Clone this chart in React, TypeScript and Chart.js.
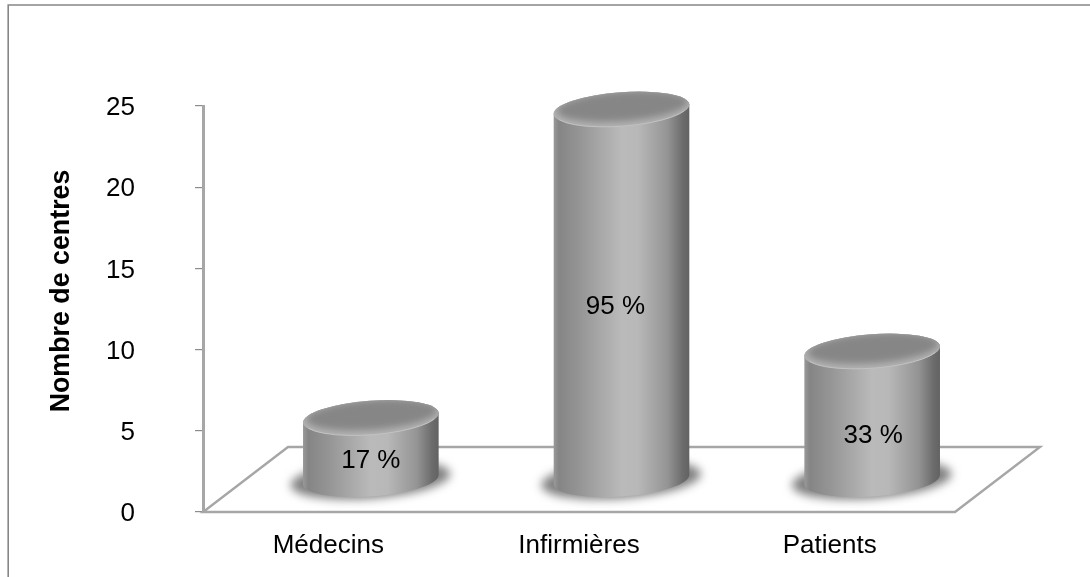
import React, { useEffect, useRef } from "react";
import { Chart, registerables } from "chart.js";

Chart.register(...registerables);

const categories = ["Médecins", "Infirmières", "Patients"];
const centreCounts = [3.8, 22.8, 7.9];
const percentLabels = ["17 %", "95 %", "33 %"];
const yAxisTitle = "Nombre de centres";

const FONT = '"Liberation Sans", Arial, sans-serif';
const AXIS = "#a6a6a6";
// projected depth of the 3D floor
const DEPTH_X = 85;
const DEPTH_Y = 65;
const TILT = (-4.2 * Math.PI) / 180;
const RY = 17;
const labelNudge = [[0, 12], [-6, 12], [1, 20]];

const cylinderPlugin = {
  id: "cylinders",
  beforeDraw(chart: any) {
    const { ctx, width, height } = chart;
    ctx.save();
    ctx.fillStyle = "#fff";
    ctx.fillRect(0, 0, width, height);
    ctx.strokeStyle = "#868686";
    ctx.lineWidth = 1.6;
    ctx.beginPath();
    ctx.moveTo(8.2, height + 2);
    ctx.lineTo(8.2, 5);
    ctx.lineTo(width + 2, 5);
    ctx.stroke();
    ctx.restore();
  },
  beforeDatasetsDraw(chart: any) {
    const { ctx, scales } = chart;
    const l = scales.x.left;
    const r = scales.x.right;
    const b = scales.y.getPixelForValue(0);
    ctx.save();
    ctx.strokeStyle = AXIS;
    ctx.lineWidth = 2.4;
    ctx.lineJoin = "miter";
    ctx.beginPath();
    ctx.moveTo(l, b);
    ctx.lineTo(r, b);
    ctx.lineTo(r + DEPTH_X, b - DEPTH_Y);
    ctx.lineTo(l + DEPTH_X, b - DEPTH_Y);
    ctx.closePath();
    ctx.stroke();
    ctx.restore();
  },
  afterDatasetsDraw(chart: any) {
    const { ctx, scales } = chart;
    const meta = chart.getDatasetMeta(0);
    const baseCy = scales.y.getPixelForValue(0) - DEPTH_Y / 2;
    meta.data.forEach((bar: any, i: number) => {
      const cx = bar.x + DEPTH_X / 2;
      const rx = bar.width / 2;
      const topCy = bar.y - DEPTH_Y / 2;
      ctx.save();

      // contact shadow
      ctx.save();
      ctx.filter = "blur(5px)";
      ctx.fillStyle = "rgba(85,85,85,0.75)";
      ctx.beginPath();
      ctx.ellipse(cx - 0.5, baseCy, rx + 12, RY + 2, TILT, 0, Math.PI * 2);
      ctx.fill();
      ctx.restore();

      // body
      const grad = ctx.createLinearGradient(cx - rx, 0, cx + rx, 0);
      grad.addColorStop(0, "#9a9a9a");
      grad.addColorStop(0.04, "#858585");
      grad.addColorStop(0.2, "#969696");
      grad.addColorStop(0.5, "#bababa");
      grad.addColorStop(0.62, "#b8b8b8");
      grad.addColorStop(0.84, "#949494");
      grad.addColorStop(0.95, "#6c6c6c");
      grad.addColorStop(1, "#626262");
      ctx.fillStyle = grad;
      ctx.beginPath();
      ctx.ellipse(cx, baseCy, rx, RY, TILT, 0, Math.PI);
      ctx.ellipse(cx, topCy, rx, RY, TILT, Math.PI, Math.PI * 2);
      ctx.closePath();
      ctx.fill();

      // top face
      ctx.save();
      ctx.beginPath();
      ctx.ellipse(cx, topCy, rx, RY, TILT, 0, Math.PI * 2);
      ctx.fillStyle = "#b4b4b4";
      ctx.fill();
      ctx.clip();
      ctx.filter = "blur(3.5px)";
      ctx.fillStyle = "#868686";
      ctx.beginPath();
      ctx.ellipse(cx + 1, topCy - 3, rx - 2, RY - 2, TILT, 0, Math.PI * 2);
      ctx.fill();
      ctx.restore();

      // light rim at the front of the top face
      ctx.strokeStyle = "#c2c2c2";
      ctx.lineWidth = 1;
      ctx.beginPath();
      ctx.ellipse(cx, topCy, rx - 1, RY, TILT, 0.35, Math.PI - 0.35);
      ctx.stroke();
      ctx.restore();

      // percentage label
      ctx.save();
      ctx.fillStyle = "#000";
      ctx.font = `26px ${FONT}`;
      ctx.textAlign = "center";
      ctx.textBaseline = "middle";
      ctx.fillText(
        percentLabels[i],
        cx + labelNudge[i][0],
        (topCy + baseCy) / 2 + labelNudge[i][1]
      );
      ctx.restore();
    });

    // y-axis title
    ctx.save();
    ctx.translate(62, 291);
    ctx.rotate(-Math.PI / 2);
    ctx.fillStyle = "#000";
    ctx.font = `bold 26.8px ${FONT}`;
    ctx.textAlign = "center";
    ctx.textBaseline = "middle";
    ctx.fillText(yAxisTitle, 0, 0);
    ctx.restore();
  },
};

export default function App() {
  const ref = useRef<HTMLCanvasElement | null>(null);
  useEffect(() => {
    const chart = new Chart(ref.current as HTMLCanvasElement, {
      type: "bar",
      plugins: [cylinderPlugin],
      data: {
        labels: categories,
        datasets: [
          {
            label: yAxisTitle,
            data: centreCounts,
            backgroundColor: "rgba(0,0,0,0)",
            borderWidth: 0,
            barPercentage: 0.5425,
            categoryPercentage: 1,
          },
        ],
      },
      options: {
        responsive: false,
        animation: false,
        devicePixelRatio: 1,
        layout: { autoPadding: false, padding: { left: 20, top: 106, right: 135, bottom: 0 } },
        plugins: { legend: { display: false }, tooltip: { enabled: false }, title: { display: false } },
        scales: {
          x: {
            afterFit: (s: any) => { s.height = 65; },
            border: { display: false },
            grid: { display: false },
            ticks: {
              color: "#000",
              font: { family: FONT, size: 26 },
              padding: 10.5,
              maxRotation: 0,
              minRotation: 0,
              autoSkip: false,
            },
          },
          y: {
            min: 0,
            max: 25,
            afterFit: (s: any) => {
              s.width = 183;
              s.paddingTop = 0;
              s.paddingBottom = 0;
            },
            border: { display: true, color: AXIS, width: 3 },
            grid: { drawOnChartArea: false, drawTicks: true, tickLength: 8, color: "#8c8c8c", lineWidth: 1.2 },
            ticks: {
              stepSize: 5,
              color: "#000",
              font: { family: FONT, size: 26 },
              padding: 60,
              labelOffset: 2,
            },
          },
        },
      },
    });
    return () => chart.destroy();
  }, []);
  return (
    <div style={{ position: "absolute", left: 0, top: 0, width: 1090, height: 577, overflow: "hidden" }}>
      <canvas ref={ref} width={1090} height={577} style={{ display: "block" }} />
    </div>
  );
}
